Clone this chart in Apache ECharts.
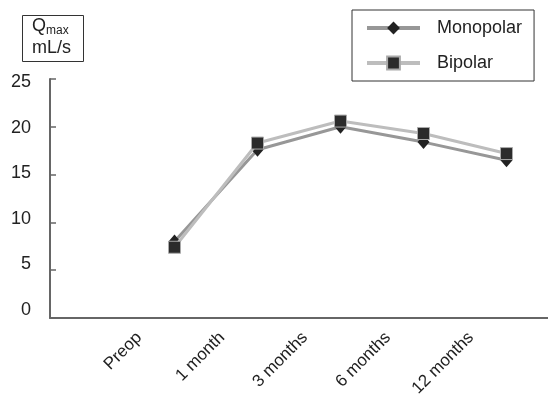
<!DOCTYPE html>
<html>
<head>
<meta charset="utf-8">
<script src="https://cdn.jsdelivr.net/npm/echarts@6/dist/echarts.min.js"></script>
<style>html,body{margin:0;padding:0;background:#fff}#c{width:548px;height:396px}</style>
</head>
<body>
<div id="c"></div>
<script>
const categories = ['Preop', '1 month', '3 months', '6 months', '12 months'];
const monopolar = [8.0, 17.6, 20.0, 18.4, 16.5];
const bipolar = [7.4, 18.3, 20.6, 19.3, 17.2];
const yTicks = [0, 5, 10, 15, 20, 25];

const FONT = '"Liberation Sans", Arial, sans-serif';
const dataCats = [' '].concat(categories);
const labelCats = [' '].concat(categories, ['  ']);

const chart = echarts.init(document.getElementById('c'), null, {renderer: 'canvas'});
chart.setOption({
  animation: false,
  backgroundColor: '#fff',
  grid: [
    {left: 50, width: 498, top: 79, height: 239, containLabel: false, outerBoundsMode: 'none'},
    {left: 50, width: 498, top: 82, height: 228, containLabel: false, outerBoundsMode: 'none'}
  ],
  legend: {
    orient: 'vertical', left: 352, top: 10,
    padding: [9, 12, 9, 13],
    borderColor: '#333', borderWidth: 1,
    itemWidth: 53, itemHeight: 16, itemGap: 17,
    lineStyle: {width: 4},
    textStyle: {fontFamily: FONT, fontSize: 18, color: '#222', padding: [0, 0, 0, 12]},
    data: ['Monopolar', 'Bipolar']
  },
  xAxis: [{
    gridIndex: 0, type: 'category', data: dataCats, boundaryGap: true, position: 'bottom',
    axisLine: {lineStyle: {color: '#666', width: 2}},
    axisTick: {inside: true, length: 6, lineStyle: {color: '#666', width: 1.5}},
    axisLabel: {show: false}, splitLine: {show: false}
  }, {
    gridIndex: 0, type: 'category', data: labelCats, boundaryGap: false, position: 'bottom', offset: 0,
    axisLine: {show: false}, axisTick: {show: false},
    axisLabel: {interval: 0, rotate: 45, margin: 11, verticalAlign: 'top',
      fontFamily: FONT, fontSize: 17, color: '#222'},
    splitLine: {show: false}
  }, {
    gridIndex: 1, type: 'category', data: dataCats, show: false
  }],
  yAxis: [{
    gridIndex: 0, type: 'value', min: 0, max: 25, interval: 5,
    axisLine: {show: true, lineStyle: {color: '#666', width: 2}},
    axisTick: {show: true, inside: true, length: 6, lineStyle: {color: '#666', width: 1.5}},
    axisLabel: {show: false},
    splitLine: {show: false}
  }, {
    gridIndex: 1, type: 'value', min: 0, max: 25, interval: 5,
    axisLine: {show: false}, axisTick: {show: false},
    axisLabel: {margin: 19, fontFamily: FONT, fontSize: 18, color: '#222',
      formatter: v => yTicks.includes(v) ? String(v) : ''},
    splitLine: {show: false}
  }],
  series: [{
    name: 'Bipolar', type: 'line', xAxisIndex: 0, yAxisIndex: 0,
    data: categories.map((c, i) => [c, bipolar[i]]),
    symbol: 'rect', symbolSize: 12,
    lineStyle: {color: '#bdbdbd', width: 3},
    itemStyle: {color: '#2b2b2b', borderColor: '#aaa', borderWidth: 1},
    z: 2
  }, {
    name: 'Monopolar', type: 'line', xAxisIndex: 0, yAxisIndex: 0,
    data: categories.map((c, i) => [c, monopolar[i]]),
    symbol: 'diamond', symbolSize: [12, 14],
    lineStyle: {color: '#979797', width: 3},
    itemStyle: {color: '#222', borderColor: '#999', borderWidth: 0},
    z: 1
  }],
  graphic: [{
    type: 'rect', left: 22, top: 15,
    shape: {width: 61, height: 46},
    style: {fill: '#fff', stroke: '#333', lineWidth: 1}
  }, {
    type: 'text', left: 32, top: 17,
    style: {
      text: '{q|Q}{m|max}\n{u|mL/s}',
      rich: {
        q: {fontFamily: FONT, fontSize: 18, fill: '#222', lineHeight: 22},
        m: {fontFamily: FONT, fontSize: 12, fill: '#222', lineHeight: 22, verticalAlign: 'bottom'},
        u: {fontFamily: FONT, fontSize: 18, fill: '#222', lineHeight: 22}
      }
    }
  }]
});
</script>
</body>
</html>
